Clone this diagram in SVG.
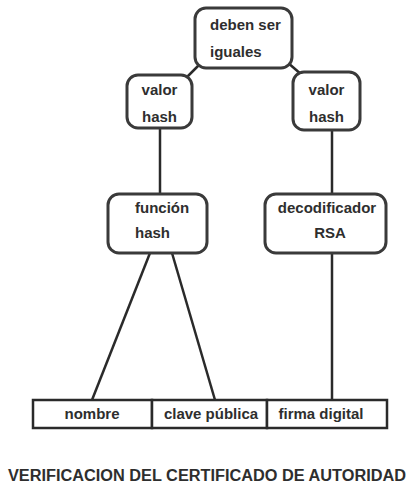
<svg xmlns="http://www.w3.org/2000/svg" width="412" height="490" viewBox="0 0 412 490">
  <style>
    .box { fill: #ffffff; stroke: #3a3a3a; stroke-width: 3; }
    .cell { fill: #ffffff; stroke: #2a2a2a; stroke-width: 2.5; }
    .link { stroke: #2a2a2a; stroke-width: 2.5; fill: none; }
    .lbl { font-family: "Liberation Sans", Arial, sans-serif; font-weight: bold; font-size: 15px; fill: #2e2e2e; }
    .mid { text-anchor: middle; }
    .title { font-family: "Liberation Sans", Arial, sans-serif; font-weight: bold; font-size: 16px; fill: #2e2e2e; }
  </style>

  <rect width="412" height="490" fill="#ffffff"/>

  <!-- connectors -->
  <g id="connectors">
    <line class="link" x1="201" y1="63" x2="186" y2="78"/>
    <line class="link" x1="287" y1="62" x2="302" y2="75"/>
    <line class="link" x1="160" y1="128" x2="160" y2="194"/>
    <line class="link" x1="332" y1="130" x2="332" y2="194"/>
    <line class="link" x1="150" y1="253" x2="92" y2="400"/>
    <line class="link" x1="172" y1="253" x2="215" y2="400"/>
    <line class="link" x1="332" y1="253" x2="332" y2="400"/>
  </g>

  <!-- deben ser iguales -->
  <g id="iguales">
    <rect class="box" x="195" y="8" width="97" height="60" rx="11"/>
    <text class="lbl" x="210" y="30">deben ser</text>
    <text class="lbl" x="210" y="57">iguales</text>
  </g>

  <!-- left hash value -->
  <g id="valor-hash-izq">
    <rect class="box" x="127" y="75" width="65" height="53" rx="11"/>
    <text class="lbl mid" x="159.5" y="95">valor</text>
    <text class="lbl mid" x="159.5" y="122">hash</text>
  </g>

  <!-- right hash value -->
  <g id="valor-hash-der">
    <rect class="box" x="293" y="72" width="67" height="58" rx="11"/>
    <text class="lbl mid" x="326.5" y="95">valor</text>
    <text class="lbl mid" x="326.5" y="122">hash</text>
  </g>

  <!-- hash function -->
  <g id="funcion-hash">
    <rect class="box" x="108" y="194" width="99" height="59" rx="11"/>
    <text class="lbl" x="135" y="213">función</text>
    <text class="lbl" x="135" y="238">hash</text>
  </g>

  <!-- RSA decoder -->
  <g id="decodificador">
    <rect class="box" x="265" y="194" width="121" height="59" rx="11"/>
    <text class="lbl mid" x="327" y="213">decodificador</text>
    <text class="lbl mid" x="330" y="238">RSA</text>
  </g>

  <!-- certificate fields -->
  <g id="certificado">
    <rect class="cell" x="33" y="400" width="119" height="28"/>
    <rect class="cell" x="152" y="400" width="115" height="28"/>
    <rect class="cell" x="267" y="400" width="120" height="28"/>
    <text class="lbl mid" x="92" y="419">nombre</text>
    <text class="lbl mid" x="211" y="419">clave pública</text>
    <text class="lbl mid" x="321" y="419">firma digital</text>
  </g>

  <text class="title" x="8" y="481" textLength="398" lengthAdjust="spacingAndGlyphs">VERIFICACION DEL CERTIFICADO DE AUTORIDAD</text>
</svg>
